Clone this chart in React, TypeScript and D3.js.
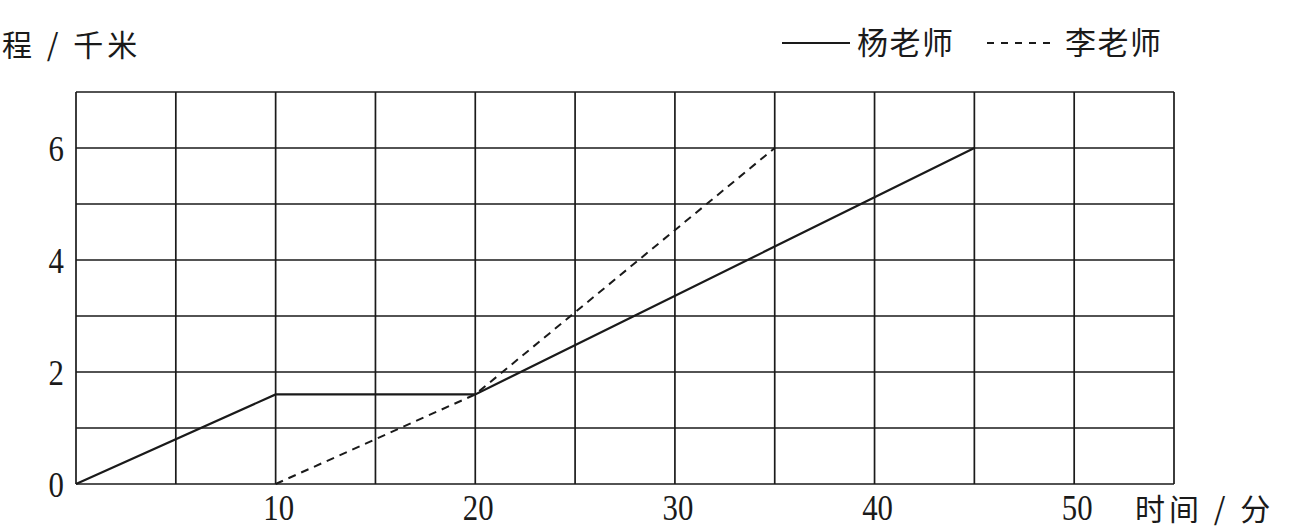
import React from "react";
import * as d3 from "d3";

const yangTime = [0, 10, 20, 45];
const yangDist = [0, 1.6, 1.6, 6];
const liTime = [10, 20, 35];
const liDist = [0, 1.6, 6];
const xTickLabels = [10, 20, 30, 40, 50];
const yTickLabels = [0, 2, 4, 6];
const xGrid = d3.range(0, 56, 5);
const yGrid = d3.range(0, 8, 1);
const yAxisTitle = "程 / 千米";
const xAxisTitle = "时间 / 分";
const legendNames = ["杨老师", "李老师"];

const W = 1298;
const H = 530;
const left = 76, right = 1174, top = 92, bottom = 484;

export default function App() {
  const x = d3.scaleLinear().domain([0, 55]).range([left, right]);
  const y = d3.scaleLinear().domain([0, 7]).range([bottom, top]);
  const line = d3.line<[number, number]>().x(d => x(d[0])).y(d => y(d[1]));
  const yang = line(yangTime.map((t, i) => [t, yangDist[i]]) as [number, number][]) || "";
  const li = line(liTime.map((t, i) => [t, liDist[i]]) as [number, number][]) || "";
  const cjk = "'Noto Sans CJK SC', 'Noto Sans', sans-serif";
  const num = "'Liberation Serif', 'DejaVu Serif', serif";
  const ink = "#1a1a1a";
  return (
    <svg width={W} height={H} style={{ position: "absolute", left: 0, top: 0, background: "#fff" }}>
      <rect width={W} height={H} fill="#fff" />
      {xGrid.map(v => (
        <line key={"gx" + v} x1={x(v)} x2={x(v)} y1={top} y2={bottom} stroke={ink} strokeWidth={1.7} />
      ))}
      {yGrid.map(v => (
        <line key={"gy" + v} x1={left} x2={right} y1={y(v)} y2={y(v)} stroke={ink} strokeWidth={1.7} />
      ))}
      <path d={yang} fill="none" stroke={ink} strokeWidth={2.2} />
      <path d={li} fill="none" stroke={ink} strokeWidth={2} strokeDasharray="8 6" />
      {yTickLabels.map(v => (
        <text key={"yt" + v} x={64} y={y(v) + 13} textAnchor="end" fontFamily={num} fontSize={35} fill={ink}
          transform={`translate(${64},0) scale(0.88,1) translate(${-64},0)`}>{v}</text>
      ))}
      {xTickLabels.map(v => (
        <text key={"xt" + v} x={x(v) + 3} y={520} textAnchor="middle" fontFamily={num} fontSize={35} fill={ink}
          transform={`translate(${x(v) + 3},0) scale(0.88,1) translate(${-(x(v) + 3)},0)`}>{v}</text>
      ))}
      <text x={2} y={56} fontFamily={cjk} fontSize={30} letterSpacing={4} fill={ink} style={{ whiteSpace: "pre" }}>{yAxisTitle}</text>
      <text x={1135} y={520} fontFamily={cjk} fontSize={30} letterSpacing={4} fill={ink} style={{ whiteSpace: "pre" }}>{xAxisTitle}</text>
      <line x1={782} x2={850} y1={43} y2={43} stroke={ink} strokeWidth={2} />
      <text x={857} y={54} fontFamily={cjk} fontSize={31} letterSpacing={1.5} fill={ink}>{legendNames[0]}</text>
      <line x1={987} x2={1057} y1={43} y2={43} stroke={ink} strokeWidth={2} strokeDasharray="7 7" />
      <text x={1065} y={54} fontFamily={cjk} fontSize={31} letterSpacing={1.5} fill={ink}>{legendNames[1]}</text>
    </svg>
  );
}
